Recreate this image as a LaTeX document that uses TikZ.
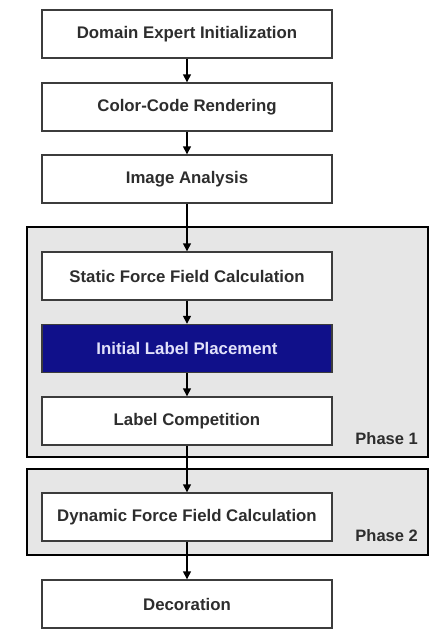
\documentclass[tikz,border=0pt]{standalone}
\usepackage{fontspec}
\setmainfont{Liberation Sans}
\usetikzlibrary{arrows.meta}
\definecolor{navyfill}{RGB}{16,16,138}
\definecolor{phasefill}{RGB}{230,230,230}
\definecolor{txtgray}{RGB}{45,45,45}
\definecolor{edgegray}{RGB}{60,60,60}
\tikzset{
  stepbox/.style={draw=edgegray, line width=1.4pt, fill=white, minimum width=290pt, minimum height=48pt, inner sep=0pt,
    font=\fontsize{16.8}{19}\selectfont\bfseries, text=txtgray},
  bluebox/.style={stepbox, fill=navyfill, text={rgb,255:red,225;green,225;blue,250}},
  phasebox/.style={draw=black, line width=2.8pt, fill=phasefill, minimum width=401pt, inner sep=0pt},
  phaselabel/.style={anchor=east, inner sep=0pt, font=\fontsize{16.5}{19}\selectfont\bfseries, text=txtgray},
  flow/.style={draw=black, line width=1.4pt, -{Triangle[width=8pt,length=8pt]}}
}
\begin{document}
\begin{tikzpicture}[x=1pt,y=-1pt]
\useasboundingbox[fill=white] (0,0) rectangle (432,629);
% phase frames
\node[phasebox, minimum height=230pt] (ph1) at (227.5,342) {};
\node[phasebox, minimum height=86pt] (ph2) at (227.5,512) {};
\node[phaselabel] (ph1lab) at (418,439) {Phase 1};
\node[phaselabel] (ph2lab) at (418,536) {Phase 2};
% steps
\node[stepbox] (dei) at (187,34) {Domain Expert Initialization};
\node[stepbox] (ccr) at (187,107) {Color-Code Rendering};
\node[stepbox] (ia) at (187,179) {Image Analysis};
\node[stepbox] (sffc) at (187,276) {Static Force Field Calculation};
\node[bluebox] (ilp) at (187,348.5) {Initial Label Placement};
\node[stepbox] (lc) at (187,421) {Label Competition};
\node[stepbox] (dffc) at (187,517) {Dynamic Force Field Calculation};
\node[stepbox] (dec) at (187,604) {Decoration};
% connectors
\draw[flow] (dei) -- (ccr);
\draw[flow] (ccr) -- (ia);
\draw[flow] (ia) -- (sffc);
\draw[flow] (sffc) -- (ilp);
\draw[flow] (ilp) -- (lc);
\draw[flow] (lc) -- (dffc);
\draw[flow] (dffc) -- (dec);
\end{tikzpicture}
\end{document}
